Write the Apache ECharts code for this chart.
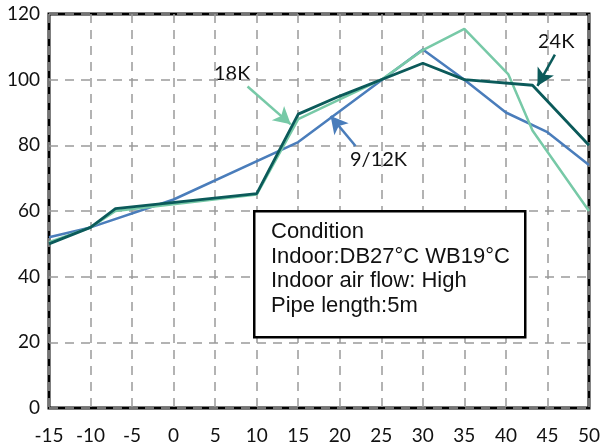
<!DOCTYPE html>
<html>
<head>
<meta charset="utf-8">
<script src="https://cdn.jsdelivr.net/npm/echarts@6/dist/echarts.min.js"></script>
<style>
  html, body { margin: 0; padding: 0; background: #fff; }
  #chart { width: 603px; height: 447px; }
</style>
</head>
<body>
<div id="chart"></div>
<script>
// outdoor temperature (x) vs capacity % (y)
const s912K = [[-15, 52], [-10, 55], [0, 63.5], [15, 81], [30, 109.2], [35, 100], [40, 90], [45, 84], [50, 74]];
const s18K = [[-15, 50.5], [-10, 55], [-7, 60], [10, 65], [15, 88], [20, 94], [25, 100], [30, 109], [35, 115.5], [40.3, 101.6], [43.2, 84.5], [50, 60]];
const s24K = [[-15, 50], [-10, 55], [-7, 60.7], [10, 65.3], [15, 89.5], [20, 95], [30, 105], [35, 100], [43.2, 98.3], [50, 80]];

// annotation arrows: [tail, tip]
const arrow18K = [[8.9, 97.9], [14.1, 86.4]];
const arrow912K = [[21.9, 79.8], [18.9, 88.9]];
const arrow24K = [[45.9, 107.6], [43.8, 98.1]];

const conditionLines = ["Condition", "Indoor:DB27°C WB19°C", "Indoor air flow: High", "Pipe length:5m"];

const BLUE = "#4a7dbb";
const LIGHT = "#77c9a7";
const DARK = "#0b5a5a";

const gridLine = { show: true, lineStyle: { color: "#9a9a9a", width: 1.5, type: [9, 7] } };
const tickFont = { color: "#111", fontSize: 19, fontFamily: "Lato" };
const noteFont = { fontSize: 20, fontFamily: "Lato", fill: "#111" };

function arrowLine(pts, color) {
  return {
    silent: true,
    symbol: ["none", "arrow"],
    symbolSize: [14, 17],
    label: { show: false },
    lineStyle: { color: color, width: 2.5, type: "solid" },
    data: [[{ coord: pts[0] }, { coord: pts[1] }]],
  };
}

function lineSeries(name, data, color, width, arrow) {
  return {
    name: name,
    type: "line",
    data: data,
    showSymbol: false,
    symbol: "none",
    lineStyle: { color: color, width: width },
    animation: false,
    markLine: arrowLine(arrow, color),
  };
}

const chart = echarts.init(document.getElementById("chart"), null, { renderer: "canvas" });
chart.setOption({
  animation: false,
  backgroundColor: "#fff",
  grid: {
    left: 49, right: 12, top: 14, bottom: 39,
    show: true, borderColor: "#000", borderWidth: 3,
  },
  xAxis: {
    type: "value", min: -15, max: 50, interval: 5,
    axisLine: { show: false },
    axisTick: { show: false },
    axisLabel: Object.assign({ margin: 18 }, tickFont),
    splitLine: gridLine,
  },
  yAxis: {
    type: "value", min: 0, max: 120, interval: 20,
    axisLine: { show: false },
    axisTick: { show: false },
    axisLabel: Object.assign({ margin: 9 }, tickFont),
    splitLine: gridLine,
  },
  series: [
    lineSeries("9/12K", s912K, BLUE, 2.5, arrow912K),
    lineSeries("18K", s18K, LIGHT, 2.5, arrow18K),
    lineSeries("24K", s24K, DARK, 2.8, arrow24K),
  ],
  graphic: [
    { type: "text", left: 214, top: 64, style: Object.assign({ text: "18K" }, noteFont) },
    { type: "text", left: 350, top: 150, style: Object.assign({ text: "9/12K" }, noteFont) },
    { type: "text", left: 538, top: 32, style: Object.assign({ text: "24K" }, noteFont) },
    {
      type: "rect", left: 253, top: 210, z: 10,
      shape: { width: 271, height: 126 },
      style: { fill: "#fff", stroke: "#000", lineWidth: 2.5 },
    },
    {
      type: "text", left: 271, top: 220, z: 11,
      style: {
        text: conditionLines.join("\n"),
        fontSize: 22, lineHeight: 24.5,
        fontFamily: "Liberation Sans", fill: "#111",
      },
    },
  ],
});
</script>
</body>
</html>
